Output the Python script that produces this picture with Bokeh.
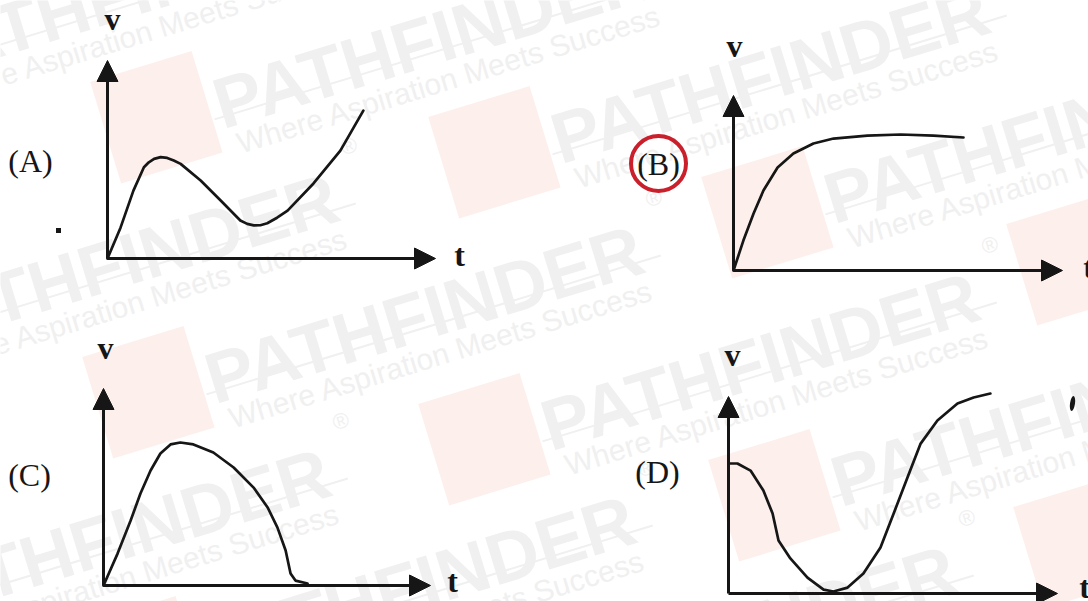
import math
from bokeh.plotting import figure
from bokeh.models import Range1d, Arrow, NormalHead
from bokeh.core.properties import value
from bokeh.embed import file_html
from bokeh.resources import INLINE

# ---------------- data (t, v in axis units; each axis runs 0..10 to its arrow tip) -------------
panel_names = ["A", "B", "C", "D"]
panel_labels = ["(A)", "(B)", "(C)", "(D)"]
v_label = "v"
t_label = "t"
answer = "(B)"

t_A = [0.00, 0.40, 0.79, 1.11, 1.26, 1.42, 1.62, 1.82, 2.02, 2.23, 2.84, 3.45, 4.05, 4.26, 4.46,
       4.66, 4.87, 5.17, 5.49, 6.28, 7.10, 7.80]
v_A = [0.00, 1.57, 3.43, 4.61, 4.86, 5.03, 5.12, 5.08, 4.95, 4.78, 3.94, 2.93, 1.92, 1.75, 1.67,
       1.68, 1.78, 2.06, 2.42, 3.79, 5.45, 7.47]

t_B = [0.00, 0.30, 0.61, 0.91, 1.34, 1.82, 2.43, 3.04, 4.07, 5.08, 6.08, 6.99]
v_B = [0.00, 1.71, 3.26, 4.57, 5.89, 6.69, 7.26, 7.54, 7.71, 7.77, 7.71, 7.60]

t_C = [0.00, 0.43, 0.83, 1.13, 1.44, 1.74, 2.05, 2.35, 2.75, 3.36, 3.98, 4.59, 5.02, 5.32, 5.57,
       5.72, 5.87, 6.24]
v_C = [0.00, 1.62, 3.30, 4.67, 5.84, 6.70, 7.16, 7.26, 7.16, 6.75, 5.99, 4.97, 3.96, 2.94, 1.78,
       0.61, 0.25, 0.10]

t_D = [0.00, 0.27, 0.67, 1.06, 1.34, 1.52, 1.88, 2.40, 2.89, 3.19, 3.62, 4.10, 4.62, 5.02, 5.44,
       5.84, 6.35, 6.96, 7.45, 7.96]
v_D = [6.60, 6.60, 6.24, 5.23, 4.06, 2.69, 1.78, 0.81, 0.20, 0.10, 0.30, 1.02, 2.34, 4.06, 5.89,
       7.61, 8.78, 9.64, 9.95, 10.15]

curves = [(t_A, v_A), (t_B, v_B), (t_C, v_C), (t_D, v_D)]
AXIS_END = 10

# watermark texts
wm_brand = "PATHFINDER"
wm_tagline = "Where Aspiration Meets Success"
wm_reg = "®"

# ---------------- layout (page pixel positions, y measured down from the top) -------------
W, H = 1088, 601
LAYOUT = [
    dict(origin=(107, 258), tip=(435, 60), label=(30, 160), vpos=(112, 18), tpos=(459, 254)),
    dict(origin=(733, 270), tip=(1062, 95), label=(658, 163), vpos=(734, 45), tpos=(1088, 266)),
    dict(origin=(103, 585), tip=(430, 388), label=(29, 474), vpos=(105, 347), tpos=(452, 580)),
    dict(origin=(728, 593), tip=(1057, 396), label=(657, 471), vpos=(732, 354), tpos=(1084, 586)),
]

WM_TILES = [(-90, 58), (215, 105), (553, 140), (826, 200), (1131, 247),
            (-98, 328), (207, 380), (543, 427), (833, 483), (1138, 530),
            (-106, 603), (199, 650), (520, 700)]
WM_ANGLE = math.radians(17)

INK = "#161616"
RED = "#c9202b"
WM_GRAY = "#f0f0f0"
WM_PINK = "#fdf0ec"


def pg(X, Y):
    """page pixel (y down) -> default range coordinates (y up)"""
    return X, H - Y


p = figure(width=W, height=H, x_range=Range1d(0, W), y_range=Range1d(0, H),
           x_axis_type=None, y_axis_type=None, toolbar_location=None,
           output_backend="svg", min_border=0, outline_line_color=None,
           background_fill_color="white", border_fill_color="white")

# ----- one pair of scales per panel -----
for name, cfg in zip(panel_names, LAYOUT):
    ox, oy = cfg["origin"]
    sx = (cfg["tip"][0] - ox) / AXIS_END
    sy = (oy - cfg["tip"][1]) / AXIS_END
    p.extra_x_ranges[name] = Range1d((0 - ox) / sx, (W - ox) / sx)
    p.extra_y_ranges[name] = Range1d((oy - H) / sy, oy / sy)

# ----- watermark -----
ca, sa = math.cos(WM_ANGLE), math.sin(WM_ANGLE)


def at(P, u, n):
    return pg(P[0] + u * ca + n * sa, P[1] - u * sa + n * ca)


logos = [at(P, -60, -6) for P in WM_TILES]
p.rect(x=[q[0] for q in logos], y=[q[1] for q in logos], width=106, height=106,
       width_units="screen", height_units="screen", angle=WM_ANGLE,
       fill_color=WM_PINK, line_color=None)

text_tiles = [P for P in WM_TILES if P[0] < W - 20]
brands = [at(P, 0, 0) for P in text_tiles]
p.text(x=[q[0] for q in brands], y=[q[1] for q in brands], text=[wm_brand] * len(text_tiles),
       angle=WM_ANGLE, text_font=value("Liberation Sans"), text_font_style="bold",
       text_font_size=value("72px"), text_color=WM_GRAY, text_align="left",
       text_baseline="alphabetic")
regs = [at(P, 472, -44) for P in text_tiles]
p.text(x=[q[0] for q in regs], y=[q[1] for q in regs], text=[wm_reg] * len(text_tiles),
       angle=WM_ANGLE, text_font=value("Liberation Sans"),
       text_font_size=value("22px"), text_color=WM_GRAY, text_align="left",
       text_baseline="alphabetic")
a0 = [at(P, -5, 13) for P in text_tiles]
a1 = [at(P, 470, 13) for P in text_tiles]
p.segment(x0=[q[0] for q in a0], y0=[q[1] for q in a0], x1=[q[0] for q in a1],
          y1=[q[1] for q in a1], line_color=WM_GRAY, line_width=2)
tags = [at(P, 10, 43) for P in text_tiles]
p.text(x=[q[0] for q in tags], y=[q[1] for q in tags], text=[wm_tagline] * len(text_tiles),
       angle=WM_ANGLE, text_font=value("Liberation Sans"),
       text_font_size=value("30px"), text_color=WM_GRAY, text_align="left",
       text_baseline="alphabetic")

# ----- panels -----
for name, label, cfg, (t, v) in zip(panel_names, panel_labels, LAYOUT, curves):
    for xe, ye in [(AXIS_END, 0), (0, AXIS_END)]:
        p.add_layout(Arrow(end=NormalHead(size=21, fill_color=INK, line_color=INK, line_width=1),
                           x_start=0, y_start=0, x_end=xe, y_end=ye,
                           line_color=INK, line_width=3,
                           x_range_name=name, y_range_name=name))
    p.line(t, v, line_color=INK, line_width=2.7, line_join="round", line_cap="round",
           x_range_name=name, y_range_name=name)

    lx, ly = pg(*cfg["label"])
    p.text(x=[lx], y=[ly], text=[label], text_font=value("Liberation Serif"),
           text_font_size=value("32px"), text_color=INK, text_align="center",
           text_baseline="middle")
    vx, vy = pg(*cfg["vpos"])
    p.text(x=[vx], y=[vy], text=[v_label], text_font=value("Liberation Serif"),
           text_font_style="bold", text_font_size=value("32px"), text_color=INK,
           text_align="center", text_baseline="middle")
    tx, ty = pg(*cfg["tpos"])
    p.text(x=[tx], y=[ty], text=[t_label], text_font=value("Liberation Serif"),
           text_font_style="bold", text_font_size=value("32px"), text_color=INK,
           text_align="center", text_baseline="middle")
    if label == answer:
        p.scatter(x=[lx], y=[ly], marker="circle", size=55, fill_alpha=0,
                  line_color=RED, line_width=4)

# scan specks
s1 = pg(58, 230)
p.scatter(x=[s1[0]], y=[s1[1]], marker="square", size=5, fill_color=INK, line_color=None)
s2 = pg(1072, 403)
p.ellipse(x=[s2[0]], y=[s2[1]], width=5, height=15, width_units="screen",
          height_units="screen", angle=math.radians(-8), fill_color=INK, line_color=None)

open("out.html", "w").write(file_html(p, INLINE))
